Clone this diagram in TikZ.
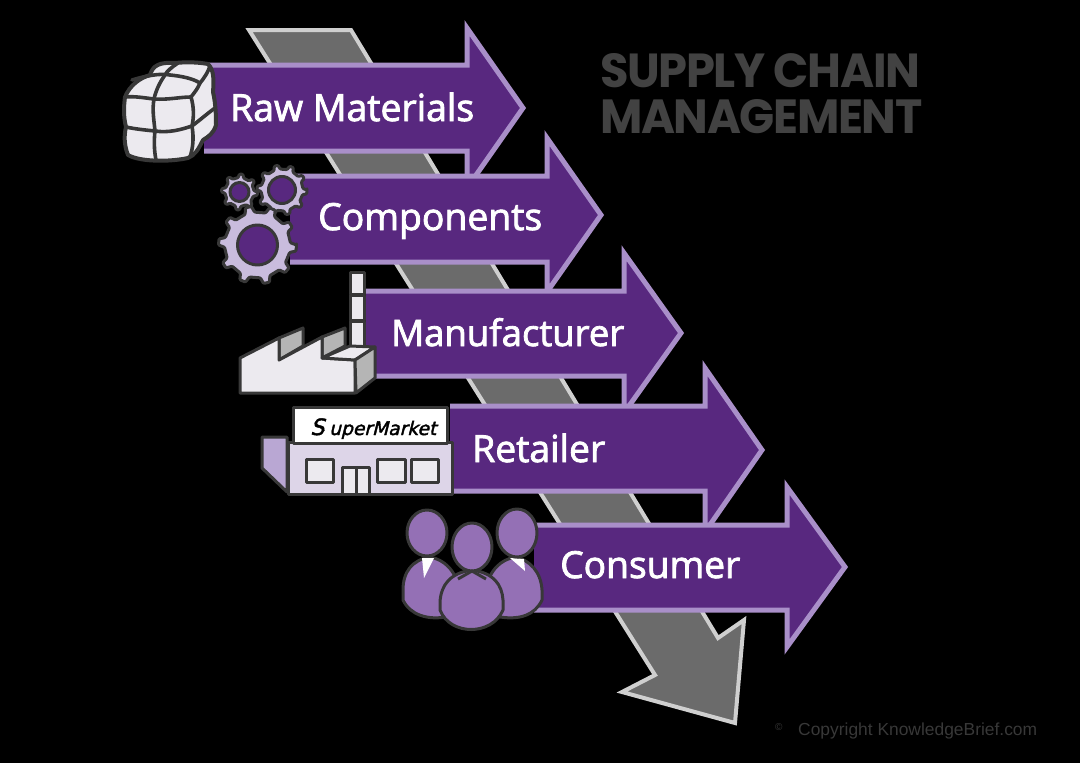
\documentclass[tikz,border=0pt]{standalone}
\usepackage{fontspec}
\usepackage{graphicx}
\setmainfont{Liberation Sans}
\newfontfamily\labfont[FakeBold=2.2]{Open Sans}
\newfontfamily\titlefont[LetterSpace=-3]{Poppins}
\newfontfamily\signfont[FakeSlant=0.25,FakeBold=2]{DejaVu Sans}
\definecolor{pdark}{HTML}{58287F}
\definecolor{plight}{HTML}{A98FC9}
\definecolor{pmid}{HTML}{9470B5}
\definecolor{pgear}{HTML}{C9BCDD}
\definecolor{ppale}{HTML}{DDD5E8}
\definecolor{pside}{HTML}{B9A7D3}
\definecolor{gfill}{HTML}{6B6B6B}
\definecolor{gline}{HTML}{CFCFCF}
\definecolor{ink}{HTML}{383838}
\definecolor{titlegray}{HTML}{424242}
\definecolor{offw}{HTML}{ECEAEF}
\definecolor{wingray}{HTML}{B5B5B5}
\tikzset{
  band/.style={fill=pdark,draw=plight,line width=5pt,miter limit=10},
  shaft/.style={fill=gfill,draw=gline,line width=4pt},
  ico/.style={draw=ink,line width=3pt,line join=round},
  cell/.style={draw=ink,line width=3.6pt,line cap=round},
  lab/.style={inner sep=0pt,anchor=base west,text=white},
  ttl/.style={inner sep=0pt,anchor=base west,text=titlegray},
}
\newcommand{\gearicon}[6]{% x y Router Rinner teeth Rhole
  \begin{scope}[shift={(#1,#2)}]
    \pgfmathsetmacro{\st}{360/#5}
    \draw[ico,fill=pgear,line width=3pt,rounded corners=1pt]
      (0:#3) \foreach \k in {1,...,#5}{
        -- ({(\k-1)*\st+0.25*\st}:#3) -- ({(\k-1)*\st+0.36*\st}:#4) -- ({(\k-1)*\st+0.89*\st}:#4) -- ({\k*\st}:#3)
      } -- cycle;
    \draw[ico,fill=pdark] (0,0) circle (#6);
  \end{scope}
}
\begin{document}
\begin{tikzpicture}[x=1pt,y=-1pt]
\useasboundingbox (0,0) rectangle (1080,763);
\fill[black] (0,0) rectangle (1080,763);

% gray chain arrow
\draw[shaft] (249,30) -- (351,30) -- (718,638) -- (744,620) -- (735,723) -- (622,692) -- (655,675) -- cycle;

% purple arrows (left ends stay open, hidden behind the icons)
\draw[band] (204,65) -- (467,65) -- (467,28) -- (523,108) -- (467,188) -- (467,151) -- (204,151);
\draw[band] (290,176) -- (547,176) -- (547,138) -- (601,215) -- (547,292) -- (547,262) -- (290,262);
\draw[band] (366,291) -- (624,291) -- (624,253) -- (681,333) -- (624,413) -- (624,376) -- (366,376);
\draw[band] (450,406) -- (705,406) -- (705,368) -- (762,450) -- (705,532) -- (705,491) -- (450,491);
\draw[band] (534,525) -- (787,525) -- (787,487) -- (845,567) -- (787,647) -- (787,610) -- (534,610);

% labels
\node[lab] (rawlab) at (230,121) {\resizebox{244pt}{!}{\labfont Raw Materials}};
\node[lab] (complab) at (318,230) {\resizebox{224pt}{!}{\labfont Components}};
\node[lab] (manlab) at (391,346) {\resizebox{233pt}{!}{\labfont Manufacturer}};
\node[lab] (retlab) at (472,462) {\resizebox{133pt}{!}{\labfont Retailer}};
\node[lab] (conlab) at (560,578) {\resizebox{180pt}{!}{\labfont Consumer}};

% title
\node[ttl] (title1) at (600,87) {\resizebox{320pt}{34pt}{\titlefont\bfseries SUPPLY CHAIN}};
\node[ttl] (title2) at (600,133) {\resizebox{322pt}{34pt}{\titlefont\bfseries MANAGEMENT}};

% copyright
\node[inner sep=0pt,anchor=base west,text=ink,font=\normalsize] (cmark) at (775,730) {©};
\node[inner sep=0pt,anchor=base west,text=ink] (copy) at (798,735) {\resizebox{239pt}{!}{Copyright KnowledgeBrief.com}};

% bale
\draw[ico,fill=offw,line width=4pt] (125,97) .. controls (130,85) and (140,78) .. (150,75) .. controls (153,65) and (160,62) .. (175,63)
  .. controls (185,62) and (197,62) .. (208,64) .. controls (214,70) and (214,80) .. (213,92) .. controls (216,105) and (216,118) .. (216,125) .. controls (214,133) and (208,137) .. (203,140)
  .. controls (198,150) and (195,155) .. (188,158) .. controls (170,162) and (140,162) .. (128,155) .. controls (124,145) and (124,135) .. (126,127) .. controls (123,115) and (124,105) .. (125,97) -- cycle;
\draw[cell] (125,97) .. controls (135,96) and (145,98) .. (154,99) .. controls (168,100) and (180,97) .. (191,97) .. controls (195,92) and (198,88) .. (200,83);
\draw[cell] (126,127) .. controls (135,129) and (145,130) .. (155,131) .. controls (168,133) and (180,130) .. (192,126) .. controls (200,120) and (208,113) .. (215,108);
\draw[cell] (154,99) .. controls (152,110) and (154,120) .. (155,131) .. controls (154,140) and (154,150) .. (156,160);
\draw[cell] (191,97) .. controls (194,107) and (194,117) .. (192,126) .. controls (194,138) and (193,148) .. (190,157);
\draw[cell] (132,80) .. controls (145,76) and (160,73) .. (170,75) .. controls (180,76) and (192,78) .. (200,83);
\draw[cell] (178,63) .. controls (172,67) and (167,71) .. (165,75) .. controls (160,82) and (156,90) .. (154,99);
\draw[cell] (200,83) .. controls (205,77) and (208,72) .. (210,66);

% gears
\gearicon{239.5}{192}{18}{14.5}{8}{9.5}
\gearicon{282}{190}{25}{21}{10}{13.5}
\gearicon{257.5}{245}{39}{33}{10}{20}

% factory
\draw[ico,fill=wingray] (279,338) -- (303,328) -- (303,346) -- (279,360) -- cycle;
\draw[ico,fill=wingray] (322,337) -- (345,328) -- (345,346) -- (322,358) -- cycle;
\draw[ico,fill=offw] (240,358) -- (279,338) -- (279,360) -- (322,337) -- (322,358) -- (355,360) -- (355,393) -- (240,393) -- cycle;
\draw[ico,fill=offw] (350,272) rectangle (364,294);
\draw[ico,fill=offw] (350,295) rectangle (364,320);
\draw[ico,fill=offw] (350,321) rectangle (364,346);
\draw[ico,fill=offw] (322,358) -- (350,346) -- (375,347) -- (355,360) -- cycle;
\draw[ico,fill=wingray] (355,360) -- (375,347) -- (375,378) -- (356,393) -- cycle;

% store
\draw[ico,fill=pside] (262,437) -- (287,437) -- (287,492) -- (262,468) -- cycle;
\draw[ico,fill=ppale] (288,442) rectangle (452,494);
\draw[ico,fill=white] (293,407) rectangle (447,443);
\draw[ico,fill=offw] (306,459) rectangle (333,482);
\draw[ico,fill=offw] (377,459) rectangle (405,482);
\draw[ico,fill=offw] (411,459) rectangle (438,482);
\draw[ico,fill=offw] (342,467) rectangle (369,494);
\draw[ico] (356,467) -- (356,494);
\node[inner sep=0pt,anchor=base west,text=black] (sign) at (310,435) {\resizebox{126pt}{!}{\signfont{\large S}\kern2.5pt uperMarket}};

% people
\draw[ico,fill=pmid] (430,557) .. controls (412,560) and (403,572) .. (403,590) -- (403,600) .. controls (410,615) and (428,620) .. (445,617) -- (460,590) .. controls (455,570) and (445,560) .. (430,557) -- cycle;
\draw[ico,fill=pmid] (515,557) .. controls (530,560) and (541,572) .. (542,590) -- (542,600) .. controls (535,615) and (520,620) .. (500,617) -- (485,590) .. controls (490,570) and (500,560) .. (515,557) -- cycle;
\fill[white] (422,558) -- (434,558) -- (424,578) -- cycle;
\fill[white] (510,558) -- (524,559) -- (525,571) -- cycle;
\draw[ico,fill=pmid] (427,533) ellipse (20 and 23);
\draw[ico,fill=pmid] (517,533) ellipse (20 and 24);
\draw[ico,fill=pmid] (472,570) .. controls (450,573) and (441,585) .. (440,602) -- (440,610) .. controls (450,636) and (492,636) .. (503,610) -- (503,600) .. controls (502,585) and (494,573) .. (472,570) -- cycle;
\draw[ico,fill=pmid] (472,547) ellipse (20 and 24);
\draw[ico] (458,579) -- (472,571) -- (486,579);
\end{tikzpicture}
\end{document}
